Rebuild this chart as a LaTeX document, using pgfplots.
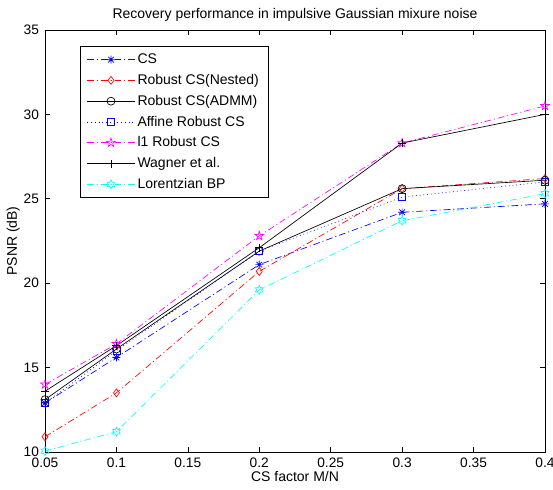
\documentclass[border=0pt]{standalone}
\usepackage{pgfplots}
\pgfplotsset{compat=1.18}
\usepackage{fontspec}
\setmainfont{Liberation Sans}
\setsansfont{Liberation Sans}
\definecolor{mblue}{rgb}{0,0,1}
\definecolor{mred}{rgb}{1,0,0}
\definecolor{mmag}{rgb}{1,0,1}
\definecolor{mcyan}{rgb}{0,1,1}

\pgfdeclareplotmark{pentagram}{%
  \pgfpathmoveto{\pgfpointpolar{90}{1.15\pgfplotmarksize}}%
  \pgfpathlineto{\pgfpointpolar{126}{0.44\pgfplotmarksize}}%
  \pgfpathlineto{\pgfpointpolar{162}{1.15\pgfplotmarksize}}%
  \pgfpathlineto{\pgfpointpolar{198}{0.44\pgfplotmarksize}}%
  \pgfpathlineto{\pgfpointpolar{234}{1.15\pgfplotmarksize}}%
  \pgfpathlineto{\pgfpointpolar{270}{0.44\pgfplotmarksize}}%
  \pgfpathlineto{\pgfpointpolar{306}{1.15\pgfplotmarksize}}%
  \pgfpathlineto{\pgfpointpolar{342}{0.44\pgfplotmarksize}}%
  \pgfpathlineto{\pgfpointpolar{18}{1.15\pgfplotmarksize}}%
  \pgfpathlineto{\pgfpointpolar{54}{0.44\pgfplotmarksize}}%
  \pgfpathclose\pgfusepathqstroke}
\pgfdeclareplotmark{hexagram}{%
  \pgfpathmoveto{\pgfpointpolar{90}{1.1\pgfplotmarksize}}%
  \pgfpathlineto{\pgfpointpolar{120}{0.63\pgfplotmarksize}}%
  \pgfpathlineto{\pgfpointpolar{150}{1.1\pgfplotmarksize}}%
  \pgfpathlineto{\pgfpointpolar{180}{0.63\pgfplotmarksize}}%
  \pgfpathlineto{\pgfpointpolar{210}{1.1\pgfplotmarksize}}%
  \pgfpathlineto{\pgfpointpolar{240}{0.63\pgfplotmarksize}}%
  \pgfpathlineto{\pgfpointpolar{270}{1.1\pgfplotmarksize}}%
  \pgfpathlineto{\pgfpointpolar{300}{0.63\pgfplotmarksize}}%
  \pgfpathlineto{\pgfpointpolar{330}{1.1\pgfplotmarksize}}%
  \pgfpathlineto{\pgfpointpolar{0}{0.63\pgfplotmarksize}}%
  \pgfpathlineto{\pgfpointpolar{30}{1.1\pgfplotmarksize}}%
  \pgfpathlineto{\pgfpointpolar{60}{0.63\pgfplotmarksize}}%
  \pgfpathclose\pgfusepathqstroke}
\pgfdeclareplotmark{mstar}{%
  \pgfpathmoveto{\pgfqpoint{-\pgfplotmarksize}{0pt}}\pgfpathlineto{\pgfqpoint{\pgfplotmarksize}{0pt}}%
  \pgfpathmoveto{\pgfqpoint{0pt}{-\pgfplotmarksize}}\pgfpathlineto{\pgfqpoint{0pt}{\pgfplotmarksize}}%
  \pgfpathmoveto{\pgfpointpolar{45}{\pgfplotmarksize}}\pgfpathlineto{\pgfpointpolar{225}{\pgfplotmarksize}}%
  \pgfpathmoveto{\pgfpointpolar{135}{\pgfplotmarksize}}\pgfpathlineto{\pgfpointpolar{315}{\pgfplotmarksize}}%
  \pgfusepathqstroke}

\tikzset{mdashdot/.style={dash pattern=on 5pt off 2.2pt on 0.8pt off 2.2pt}}

\begin{document}
\begin{tikzpicture}
\begin{axis}[
  scale only axis,
  width=375pt, height=316.5pt,
  xmin=0.05, xmax=0.4, ymin=10, ymax=35,
  xtick={0.05,0.1,0.15,0.2,0.25,0.3,0.35,0.4},
  xticklabels={0.05,0.1,0.15,0.2,0.25,0.3,0.35,0.4},
  ytick={10,15,20,25,30,35},
  tick align=inside,
  major tick length=4pt,
  axis line style={line width=0.7pt},
  every tick/.style={line width=0.5pt, black},
  /pgf/number format/assume math mode=true,
  tick label style={font=\fontsize{10.3}{12}\selectfont},
  xticklabel style={yshift=-1pt},
  yticklabel style={xshift=-1pt},
  label style={font=\fontsize{10.5}{12}\selectfont},
  title style={font=\fontsize{10.5}{12}\selectfont, yshift=-3pt},
  title={Recovery performance in impulsive Gaussian mixure noise},
  xlabel={CS factor M/N},
  ylabel={PSNR (dB)},
  xlabel style={yshift=4pt},
  ylabel style={yshift=-4pt},
  legend cell align=left,
  legend style={at={(0.07,0.962)}, anchor=north west, draw=black, line width=0.7pt,
    font=\fontsize{10.5}{12}\selectfont, row sep=2.5pt, inner xsep=5pt, inner ysep=3.5pt},
  legend image code/.code={\draw[line width=0.5pt, mark repeat=2,mark phase=2] plot coordinates {(0cm,0cm) (0.62cm,0cm) (1.24cm,0cm)};},
  every axis plot/.append style={line width=0.5pt, mark size=3pt},
]
\addplot[mblue, mdashdot, mark=mstar, mark options={solid}] coordinates {(0.05,12.9) (0.1,15.6) (0.2,21.1) (0.3,24.2) (0.4,24.7)};
\addlegendentry{CS}
\addplot[mred, mdashdot, mark=diamond, mark options={solid}] coordinates {(0.05,10.9) (0.1,13.5) (0.2,20.7) (0.3,25.6) (0.4,26.2)};
\addlegendentry{Robust CS(Nested)}
\addplot[black, solid, mark=o] coordinates {(0.05,13.1) (0.1,16.1) (0.2,21.9) (0.3,25.6) (0.4,26.1)};
\addlegendentry{Robust CS(ADMM)}
\addplot[mblue, dash pattern=on 0.6pt off 2.2pt, mark=square, mark size=2.6pt, mark options={solid}] coordinates {(0.05,12.9) (0.1,16.0) (0.2,21.9) (0.3,25.1) (0.4,26.0)};
\addlegendentry{Affine Robust CS}
\addplot[mmag, mdashdot, mark=pentagram, mark options={solid}] coordinates {(0.05,14.0) (0.1,16.4) (0.2,22.8) (0.3,28.3) (0.4,30.5)};
\addlegendentry{l1 Robust CS}
\addplot[black, solid, mark=+] coordinates {(0.05,13.6) (0.1,16.3) (0.2,22.1) (0.3,28.3) (0.4,30.0)};
\addlegendentry{Wagner et al.}
\addplot[mcyan, mdashdot, mark=hexagram, mark options={solid}] coordinates {(0.05,10.05) (0.1,11.2) (0.2,19.6) (0.3,23.7) (0.4,25.3)};
\addlegendentry{Lorentzian BP}
\end{axis}
\pgfresetboundingbox
\path ([xshift=-33.75pt,yshift=-28.5pt]current axis.south west) rectangle ([xshift=6pt,yshift=22.5pt]current axis.north east);
\end{tikzpicture}
\end{document}
